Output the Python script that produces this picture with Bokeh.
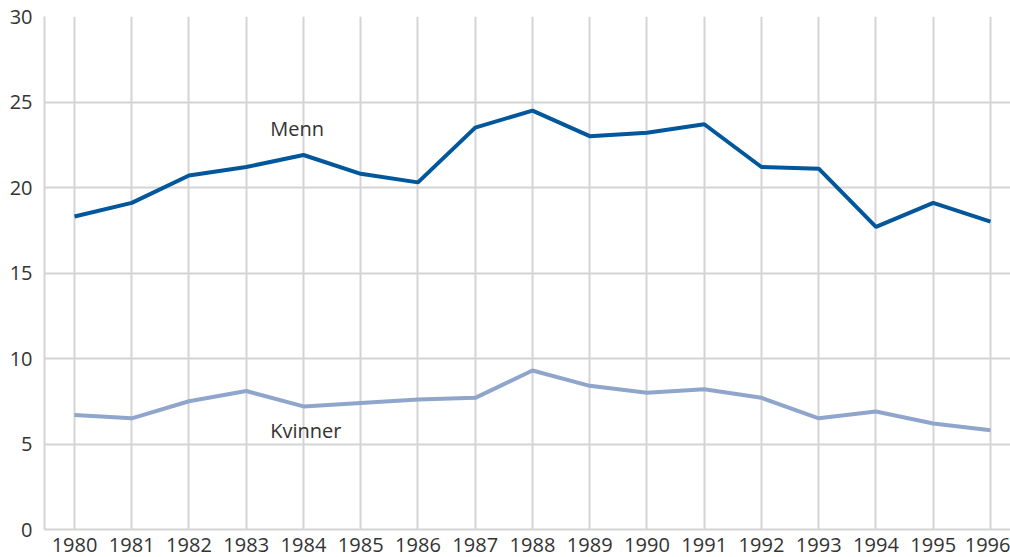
from bokeh.plotting import figure
from bokeh.models import Range1d, FixedTicker, Label
from bokeh.embed import file_html
from bokeh.resources import INLINE

years = list(range(1980, 1997))
menn = [18.3, 19.1, 20.7, 21.2, 21.9, 20.8, 20.3, 23.5, 24.5, 23.0, 23.2, 23.7, 21.2, 21.1, 17.7, 19.1, 18.0]
kvinner = [6.7, 6.5, 7.5, 8.1, 7.2, 7.4, 7.6, 7.7, 9.3, 8.4, 8.0, 8.2, 7.7, 6.5, 6.9, 6.2, 5.8]
y_ticks = [0, 5, 10, 15, 20, 25, 30]

FONT = "Open Sans"
TEXT = "#333333"
GRID = "#d4d4d4"

p = figure(width=1010, height=557, output_backend="svg", toolbar_location=None,
           x_range=Range1d(1979.476, 1996.35), y_range=Range1d(0, 30),
           min_border_left=44, min_border_right=0, min_border_top=16, min_border_bottom=28)
p.outline_line_color = None
p.background_fill_color = "white"

p.xaxis.ticker = FixedTicker(ticks=years)
p.yaxis.ticker = FixedTicker(ticks=y_ticks)
for ax in (p.xaxis, p.yaxis):
    ax.axis_line_color = GRID
    ax.axis_line_width = 2
    ax.major_tick_line_color = None
    ax.minor_tick_line_color = None
    ax.major_tick_out = 0
    ax.major_tick_in = 0
    ax.major_label_text_font = FONT
    ax.major_label_text_color = TEXT
p.yaxis.major_label_text_font_size = "20px"
p.xaxis.major_label_text_font_size = "20px"
p.yaxis.major_label_standoff = 12
p.xaxis.major_label_standoff = 8

p.xgrid.grid_line_color = GRID
p.xgrid.grid_line_width = 2
p.ygrid.grid_line_color = GRID
p.ygrid.grid_line_width = 2

p.line(years, kvinner, line_color="#8fa5cc", line_width=4)
p.line(years, menn, line_color="#00579b", line_width=4)

p.add_layout(Label(x=1983.42, y=23.45, text="Menn", text_font=FONT, text_font_size="20px",
                   text_color=TEXT, text_baseline="middle", text_align="left"))
p.add_layout(Label(x=1983.42, y=5.8, text="Kvinner", text_font=FONT, text_font_size="20px",
                   text_color=TEXT, text_baseline="middle", text_align="left"))

open("out.html", "w").write(file_html(p, INLINE))
